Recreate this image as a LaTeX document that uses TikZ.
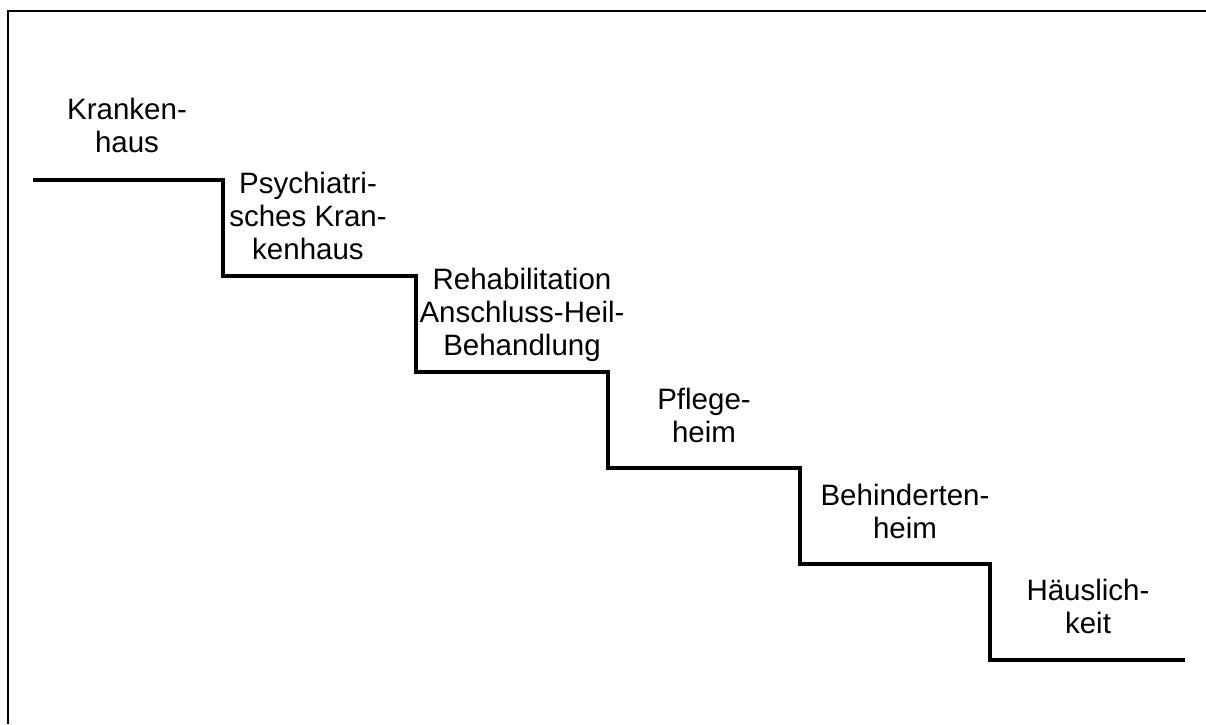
\documentclass[tikz,border=0pt]{standalone}
\usepackage{fontspec}
\setmainfont{Liberation Sans}
\begin{document}
\begin{tikzpicture}[x=1pt,y=-1pt,
  stair/.style={line width=4.5pt,line join=miter,line cap=butt},
  frameline/.style={line width=2pt},
  lbl/.style={align=center,inner sep=0pt,anchor=base,font=\fontsize{29.5}{33}\selectfont}]
\useasboundingbox (0,0) rectangle (1206,724);
% frame (top and left visible)
\draw[frameline] (8,724) -- (8,11) -- (1206,11);
% staircase
\draw[stair] (33,180) -- (223,180) -- (223,276) -- (416,276) -- (416,372)
  -- (608,372) -- (608,468) -- (800,468) -- (800,564) -- (990,564)
  -- (990,660) -- (1185,660);
% labels (anchor = baseline of the last line)
\node[lbl] (kh) at (127,152) {Kranken-\\haus};
\node[lbl] (pk) at (308,259) {Psychiatri-\\sches Kran-\\kenhaus};
\node[lbl] (rh) at (522,355) {Rehabilitation\\Anschluss-Heil-\\Behandlung};
\node[lbl] (ph) at (704,442) {Pflege-\\heim};
\node[lbl] (bh) at (905,538) {Behinderten-\\heim};
\node[lbl] (hk) at (1088,633) {Häuslich-\\keit};
\end{tikzpicture}
\end{document}
